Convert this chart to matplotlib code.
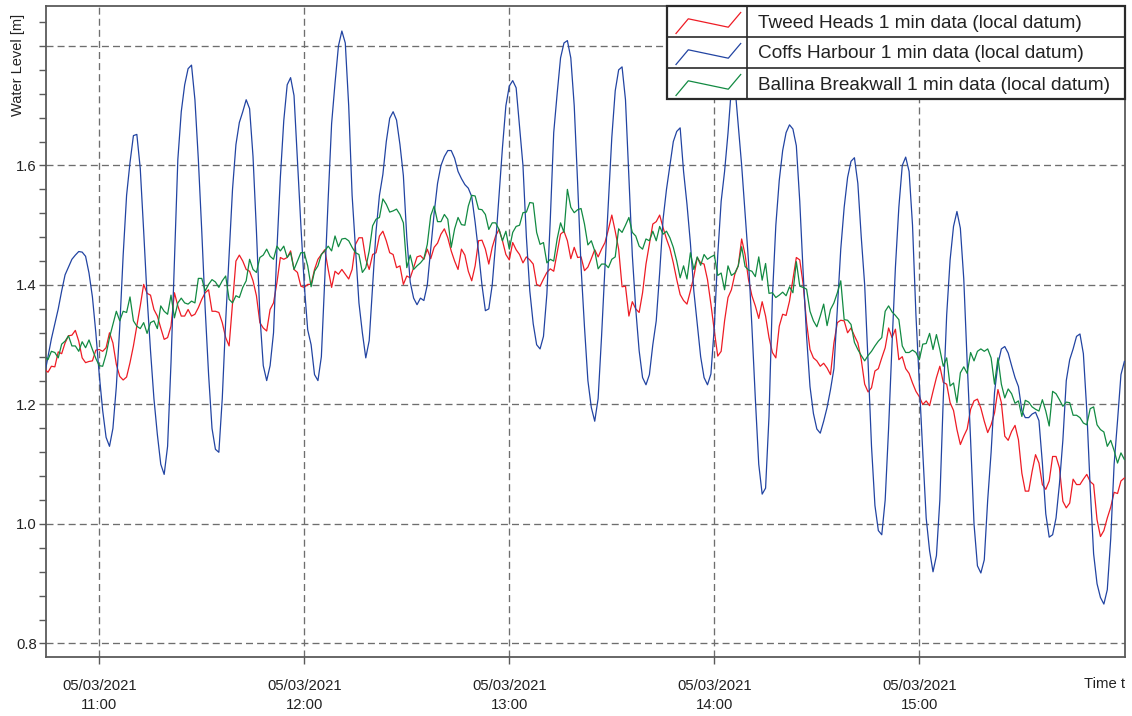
import pandas as pd
import matplotlib
matplotlib.use("Agg")
import matplotlib.pyplot as plt
import matplotlib.dates as mdates
from matplotlib.ticker import MultipleLocator, FixedLocator, FixedFormatter
from matplotlib.patches import Rectangle

plt.rcParams['font.family'] = ['Liberation Sans', 'DejaVu Sans']

# 1-minute samples, 05/03/2021 10:44 .. 16:00
times = pd.date_range("2021-03-05 10:44", "2021-03-05 16:00", freq="min")

tweed_heads = [
    1.259, 1.254, 1.264, 1.263, 1.288, 1.285, 1.303, 1.315, 1.316, 1.324,
    1.306, 1.278, 1.270, 1.272, 1.273, 1.291, 1.292, 1.289, 1.295, 1.320,
    1.303, 1.267, 1.247, 1.241, 1.246, 1.270, 1.298, 1.331, 1.365, 1.401,
    1.386, 1.383, 1.359, 1.348, 1.328, 1.309, 1.312, 1.331, 1.387, 1.365,
    1.348, 1.348, 1.359, 1.348, 1.351, 1.362, 1.376, 1.387, 1.392, 1.356,
    1.356, 1.354, 1.337, 1.312, 1.298, 1.370, 1.440, 1.450, 1.440, 1.426,
    1.423, 1.407, 1.382, 1.337, 1.328, 1.323, 1.359, 1.370, 1.404, 1.446,
    1.443, 1.446, 1.457, 1.426, 1.421, 1.398, 1.396, 1.401, 1.401, 1.426,
    1.443, 1.451, 1.459, 1.426, 1.396, 1.423, 1.418, 1.426, 1.418, 1.410,
    1.426, 1.468, 1.479, 1.479, 1.443, 1.426, 1.451, 1.454, 1.482, 1.490,
    1.474, 1.454, 1.451, 1.429, 1.432, 1.401, 1.415, 1.412, 1.429, 1.447,
    1.449, 1.443, 1.460, 1.444, 1.463, 1.470, 1.485, 1.494, 1.479, 1.457,
    1.440, 1.426, 1.460, 1.450, 1.423, 1.407, 1.432, 1.474, 1.475, 1.460,
    1.435, 1.463, 1.482, 1.493, 1.474, 1.451, 1.442, 1.471, 1.459, 1.451,
    1.437, 1.447, 1.442, 1.435, 1.401, 1.398, 1.410, 1.421, 1.427, 1.423,
    1.454, 1.485, 1.490, 1.474, 1.444, 1.463, 1.446, 1.447, 1.424, 1.430,
    1.444, 1.459, 1.447, 1.460, 1.471, 1.493, 1.517, 1.490, 1.460, 1.397,
    1.398, 1.348, 1.372, 1.360, 1.354, 1.387, 1.435, 1.468, 1.502, 1.506,
    1.517, 1.496, 1.477, 1.461, 1.437, 1.409, 1.384, 1.374, 1.368, 1.390,
    1.414, 1.446, 1.437, 1.435, 1.409, 1.368, 1.323, 1.281, 1.289, 1.340,
    1.379, 1.392, 1.418, 1.432, 1.477, 1.451, 1.409, 1.382, 1.365, 1.344,
    1.372, 1.348, 1.312, 1.287, 1.278, 1.331, 1.351, 1.349, 1.373, 1.410,
    1.446, 1.442, 1.401, 1.337, 1.292, 1.278, 1.273, 1.264, 1.269, 1.261,
    1.250, 1.303, 1.337, 1.341, 1.340, 1.320, 1.328, 1.315, 1.303, 1.275,
    1.234, 1.221, 1.228, 1.256, 1.260, 1.278, 1.295, 1.328, 1.312, 1.326,
    1.275, 1.280, 1.260, 1.252, 1.236, 1.222, 1.213, 1.200, 1.206, 1.198,
    1.222, 1.245, 1.264, 1.237, 1.234, 1.203, 1.190, 1.158, 1.133, 1.147,
    1.159, 1.192, 1.206, 1.209, 1.194, 1.172, 1.153, 1.166, 1.186, 1.225,
    1.203, 1.147, 1.140, 1.155, 1.165, 1.141, 1.085, 1.055, 1.055, 1.088,
    1.116, 1.102, 1.066, 1.058, 1.072, 1.113, 1.113, 1.094, 1.038, 1.027,
    1.035, 1.075, 1.066, 1.066, 1.075, 1.083, 1.071, 1.066, 1.007, 0.979,
    0.989, 1.010, 1.028, 1.053, 1.051, 1.072, 1.077,
]

coffs_harbour = [
    1.250, 1.280, 1.310, 1.335, 1.360, 1.390, 1.417, 1.430, 1.443, 1.450,
    1.456, 1.455, 1.448, 1.420, 1.380, 1.320, 1.250, 1.190, 1.145, 1.130,
    1.160, 1.230, 1.330, 1.450, 1.550, 1.605, 1.650, 1.652, 1.595, 1.490,
    1.380, 1.290, 1.210, 1.150, 1.100, 1.083, 1.130, 1.270, 1.440, 1.610,
    1.690, 1.735, 1.762, 1.768, 1.710, 1.610, 1.490, 1.360, 1.250, 1.160,
    1.125, 1.120, 1.210, 1.340, 1.450, 1.560, 1.635, 1.672, 1.690, 1.710,
    1.695, 1.615, 1.490, 1.350, 1.265, 1.240, 1.265, 1.320, 1.460, 1.580,
    1.675, 1.735, 1.747, 1.717, 1.610, 1.500, 1.400, 1.325, 1.300, 1.250,
    1.240, 1.280, 1.410, 1.545, 1.670, 1.738, 1.800, 1.825, 1.805, 1.700,
    1.550, 1.460, 1.370, 1.320, 1.278, 1.307, 1.400, 1.490, 1.550, 1.585,
    1.640, 1.679, 1.690, 1.676, 1.635, 1.583, 1.480, 1.405, 1.378, 1.367,
    1.378, 1.374, 1.400, 1.460, 1.520, 1.570, 1.600, 1.615, 1.625, 1.625,
    1.612, 1.590, 1.578, 1.568, 1.562, 1.548, 1.505, 1.455, 1.400, 1.357,
    1.360, 1.400, 1.470, 1.550, 1.630, 1.700, 1.733, 1.742, 1.730, 1.665,
    1.600, 1.480, 1.390, 1.335, 1.300, 1.293, 1.314, 1.385, 1.510, 1.655,
    1.720, 1.780, 1.805, 1.809, 1.780, 1.700, 1.570, 1.430, 1.330, 1.240,
    1.195, 1.172, 1.210, 1.314, 1.430, 1.540, 1.647, 1.725, 1.760, 1.765,
    1.710, 1.580, 1.450, 1.360, 1.290, 1.245, 1.233, 1.250, 1.300, 1.340,
    1.420, 1.510, 1.560, 1.600, 1.640, 1.657, 1.663, 1.590, 1.535, 1.470,
    1.390, 1.335, 1.280, 1.245, 1.233, 1.251, 1.330, 1.450, 1.540, 1.590,
    1.654, 1.730, 1.735, 1.668, 1.600, 1.520, 1.440, 1.330, 1.210, 1.100,
    1.050, 1.060, 1.180, 1.380, 1.500, 1.575, 1.625, 1.655, 1.668, 1.661,
    1.633, 1.540, 1.420, 1.314, 1.230, 1.185, 1.159, 1.152, 1.172, 1.195,
    1.225, 1.260, 1.360, 1.460, 1.530, 1.580, 1.607, 1.613, 1.570, 1.480,
    1.400, 1.270, 1.130, 1.031, 0.989, 0.982, 1.040, 1.160, 1.300, 1.430,
    1.530, 1.600, 1.614, 1.590, 1.500, 1.350, 1.235, 1.120, 1.010, 0.955,
    0.920, 0.947, 1.040, 1.210, 1.350, 1.442, 1.498, 1.523, 1.495, 1.410,
    1.270, 1.140, 1.000, 0.930, 0.918, 0.940, 1.040, 1.120, 1.220, 1.268,
    1.293, 1.297, 1.286, 1.265, 1.245, 1.230, 1.190, 1.178, 1.178, 1.184,
    1.187, 1.173, 1.102, 1.017, 0.978, 0.982, 1.010, 1.067, 1.140, 1.240,
    1.275, 1.293, 1.314, 1.318, 1.285, 1.190, 1.060, 0.950, 0.900, 0.877,
    0.866, 0.890, 0.975, 1.100, 1.173, 1.250, 1.272,
]

ballina_breakwall = [
    1.281, 1.275, 1.289, 1.287, 1.278, 1.301, 1.306, 1.315, 1.298, 1.298,
    1.289, 1.305, 1.295, 1.308, 1.292, 1.277, 1.265, 1.264, 1.284, 1.312,
    1.334, 1.356, 1.340, 1.356, 1.354, 1.380, 1.340, 1.331, 1.327, 1.337,
    1.319, 1.337, 1.340, 1.327, 1.365, 1.356, 1.351, 1.383, 1.345, 1.370,
    1.378, 1.370, 1.368, 1.373, 1.370, 1.411, 1.411, 1.390, 1.401, 1.409,
    1.405, 1.396, 1.407, 1.415, 1.376, 1.370, 1.382, 1.379, 1.396, 1.407,
    1.443, 1.426, 1.421, 1.446, 1.450, 1.460, 1.448, 1.443, 1.465, 1.457,
    1.465, 1.446, 1.454, 1.426, 1.440, 1.454, 1.454, 1.432, 1.397, 1.423,
    1.432, 1.451, 1.457, 1.465, 1.457, 1.482, 1.464, 1.477, 1.478, 1.474,
    1.463, 1.454, 1.451, 1.421, 1.429, 1.457, 1.499, 1.510, 1.513, 1.544,
    1.535, 1.522, 1.524, 1.527, 1.518, 1.504, 1.429, 1.450, 1.426, 1.432,
    1.437, 1.444, 1.468, 1.516, 1.532, 1.506, 1.506, 1.518, 1.510, 1.463,
    1.494, 1.513, 1.501, 1.500, 1.532, 1.550, 1.549, 1.527, 1.526, 1.518,
    1.493, 1.504, 1.504, 1.493, 1.474, 1.490, 1.460, 1.488, 1.498, 1.500,
    1.521, 1.522, 1.538, 1.537, 1.488, 1.468, 1.471, 1.437, 1.443, 1.440,
    1.477, 1.504, 1.488, 1.560, 1.530, 1.521, 1.526, 1.528, 1.502, 1.467,
    1.474, 1.457, 1.427, 1.435, 1.435, 1.429, 1.443, 1.447, 1.494, 1.488,
    1.500, 1.513, 1.488, 1.482, 1.465, 1.460, 1.477, 1.474, 1.490, 1.474,
    1.498, 1.485, 1.490, 1.479, 1.463, 1.440, 1.412, 1.432, 1.410, 1.454,
    1.426, 1.447, 1.433, 1.451, 1.443, 1.447, 1.450, 1.416, 1.420, 1.392,
    1.432, 1.416, 1.420, 1.432, 1.464, 1.431, 1.425, 1.423, 1.414, 1.447,
    1.408, 1.436, 1.386, 1.387, 1.379, 1.383, 1.388, 1.382, 1.397, 1.387,
    1.439, 1.398, 1.396, 1.393, 1.356, 1.340, 1.330, 1.348, 1.368, 1.332,
    1.359, 1.370, 1.387, 1.407, 1.342, 1.341, 1.334, 1.304, 1.292, 1.282,
    1.273, 1.282, 1.289, 1.298, 1.306, 1.312, 1.356, 1.365, 1.355, 1.349,
    1.342, 1.298, 1.287, 1.287, 1.291, 1.287, 1.275, 1.301, 1.302, 1.319,
    1.292, 1.317, 1.292, 1.264, 1.278, 1.231, 1.236, 1.203, 1.253, 1.263,
    1.252, 1.287, 1.273, 1.289, 1.293, 1.289, 1.293, 1.278, 1.234, 1.278,
    1.234, 1.211, 1.226, 1.218, 1.202, 1.206, 1.180, 1.207, 1.204, 1.196,
    1.192, 1.189, 1.208, 1.189, 1.164, 1.222, 1.218, 1.208, 1.197, 1.204,
    1.203, 1.182, 1.182, 1.178, 1.169, 1.166, 1.193, 1.196, 1.166, 1.158,
    1.154, 1.130, 1.140, 1.123, 1.102, 1.119, 1.108,
]

series_labels = [
    "Tweed Heads 1 min data (local datum)",
    "Coffs Harbour 1 min data (local datum)",
    "Ballina Breakwall 1 min data (local datum)",
]
series_values = [tweed_heads, coffs_harbour, ballina_breakwall]
series_colors = ["#ee1c25", "#2244a2", "#128a42"]

y_major = [0.8, 1.0, 1.2, 1.4, 1.6, 1.8]
y_major_labels = ["0.8", "1.0", "1.2", "1.4", "1.6", ""]

W, H = 1132, 716
fig = plt.figure(figsize=(W / 100, H / 100), dpi=100)
ax = fig.add_axes([46 / W, 1 - 657 / H, (1125 - 46) / W, (657 - 6) / H])

for vals, col in zip(series_values, series_colors):
    ax.plot(times, vals, color=col, lw=0.9, zorder=3)

ax.set_xlim(pd.Timestamp("2021-03-05 10:44:25"), pd.Timestamp("2021-03-05 16:00:11"))
ax.set_ylim(0.7774, 1.8669)

ax.xaxis.set_major_locator(mdates.HourLocator(byhour=range(11, 16)))
ax.xaxis.set_major_formatter(mdates.DateFormatter("%d/%m/%Y\n%H:%M"))
ax.yaxis.set_major_locator(FixedLocator(y_major))
ax.yaxis.set_major_formatter(FixedFormatter(y_major_labels))
ax.yaxis.set_minor_locator(MultipleLocator(0.04))

spine_col = "#5a5a5a"
for s in ax.spines.values():
    s.set_color(spine_col)
    s.set_linewidth(1.3)

ax.tick_params(axis="y", which="both", direction="out", length=5, width=1,
               color=spine_col, labelsize=10.7, pad=1.5, labelcolor="#222222")
ax.tick_params(axis="x", which="major", direction="out", length=5, width=1,
               color=spine_col, labelsize=10.7, pad=11, labelcolor="#222222")
for lab in ax.get_xticklabels():
    lab.set_linespacing(1.4)

ax.grid(True, which="major", color="#6e6e6e", linestyle=(0, (5.3, 3.1)), lw=0.95, zorder=1)

fig.text(18 / W, 1 - 14 / H, "Water Level [m]", rotation=90, ha="center", va="top",
         fontsize=10.5, color="#222222")
fig.text(1125 / W, 1 - 684 / H, "Time t", ha="right", va="center",
         fontsize=10.7, color="#222222")

# legend table in the upper right corner
lx0, lx1, ly0, ly1 = 667, 1125, 6, 99
lg = fig.add_axes([lx0 / W, 1 - ly1 / H, (lx1 - lx0) / W, (ly1 - ly0) / H], zorder=10)
lg.set_xlim(0, lx1 - lx0)
lg.set_ylim(ly1 - ly0, 0)
lg.axis("off")
lg.add_patch(Rectangle((0, 0), lx1 - lx0, ly1 - ly0, facecolor="white",
                       edgecolor="none", zorder=0))
row_h = (ly1 - ly0) / len(series_labels)
col_w = 80
border = "#2a2a2a"
for i, (lab, col) in enumerate(zip(series_labels, series_colors)):
    top = i * row_h
    lg.plot([9, 21.3, 61.3, 73.7],
            [top + 27.5, top + 12.8, top + 21.2, top + 6.5],
            color=col, lw=0.9, zorder=2, clip_on=False)
    lg.text(col_w + 11, top + row_h / 2 + 1.5, lab, ha="left", va="center",
            fontsize=13.7, color="#222222", zorder=2)
    if i > 0:
        lg.plot([0, lx1 - lx0], [top, top], color=border, lw=1.2, zorder=3)
lg.plot([col_w, col_w], [0, ly1 - ly0], color=border, lw=1.2, zorder=3)
lg.add_patch(Rectangle((0, 0), lx1 - lx0, ly1 - ly0, facecolor="none",
                       edgecolor=border, lw=1.6, zorder=4, clip_on=False))

fig.savefig("out.png", dpi=100)
